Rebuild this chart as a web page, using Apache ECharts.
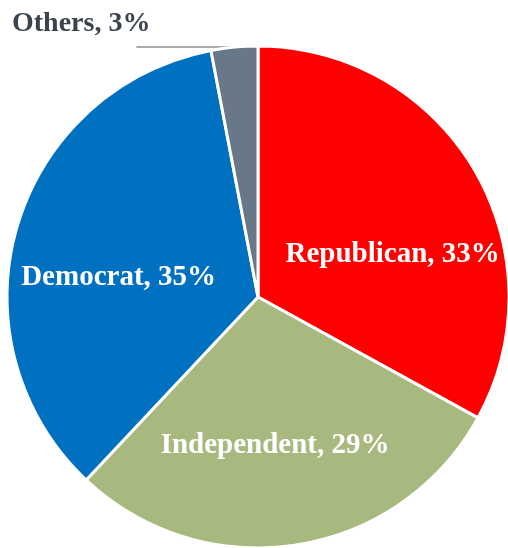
<!DOCTYPE html>
<html><head><meta charset="utf-8">
<script src="https://cdn.jsdelivr.net/npm/echarts@6/dist/echarts.min.js"></script>
<style>html,body{margin:0;padding:0;background:#fff}#c{width:508px;height:548px}</style>
</head><body><div id="c"></div>
<script>
const categories = ['Republican', 'Independent', 'Democrat', 'Others'];
const values = [33, 29, 35, 3];
const colors = ['#ff0000', '#a8b97f', '#0070c0', '#687889'];
const labelShift = [[24, 23], [-3, 22], [-16, 16], [0, 0]];

const chart = echarts.init(document.getElementById('c'));
const font = '"Liberation Serif", serif';
const data = categories.map((n, i) => {
  const d = { name: n, value: values[i], itemStyle: { color: colors[i] } };
  if (n === 'Others') {
    d.label = {
      position: 'outside', formatter: '{t|{b}, {c}%}\n{e| }', distanceToLabelLine: -14,
      rich: {
        t: { color: '#3a434e', fontSize: 28, fontWeight: 'bold', fontFamily: font, height: 28, lineHeight: 28 },
        e: { height: 46, lineHeight: 46, fontSize: 10 }
      }
    };
    d.labelLine = { show: true, length: 0, length2: 98, smooth: false, lineStyle: { color: '#aaaaaa', width: 2 } };
  }
  return d;
});
chart.setOption({
  animation: false,
  series: [{
    type: 'pie',
    center: [258, 297],
    radius: [0, 251],
    startAngle: 90,
    clockwise: true,
    avoidLabelOverlap: false,
    itemStyle: { borderColor: '#ffffff', borderWidth: 3 },
    label: {
      show: true, position: 'inside', formatter: '{b}, {c}%',
      color: '#ffffff', fontSize: 29, fontWeight: 'bold', fontFamily: font
    },
    labelLine: { show: false },
    labelLayout: function (p) {
      const s = labelShift[p.dataIndex];
      if (categories[p.dataIndex] === 'Others') return {};
      return { dx: s[0], dy: s[1] };
    },
    data: data
  }]
});
</script></body></html>
